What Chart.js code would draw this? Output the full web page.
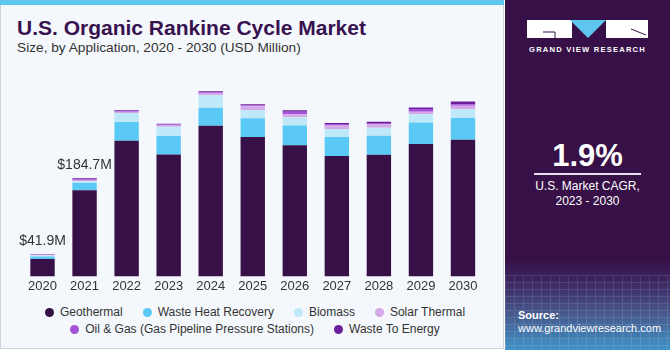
<!DOCTYPE html>
<html>
<head>
<meta charset="utf-8">
<script src="https://cdn.jsdelivr.net/npm/chart.js@4.4.1/dist/chart.umd.min.js"></script>
<style>
  body { margin: 0; width: 670px; height: 350px; background: #ffffff; font-family: "Liberation Sans", Arial, sans-serif; overflow: hidden; }
  #left { position: absolute; left: 0; top: 0; width: 502px; height: 348px; background: #f4f8fc; border-left: 1px solid #cfd3d8; border-bottom: 1px solid #cfd3d8; border-right: 1px solid #cfd3d8; }
  #stripe { position: absolute; left: 0; top: 0; width: 504px; height: 5px; background: #5ec6ef; }
  #title { position: absolute; left: 17px; top: 16px; font-size: 21px; font-weight: bold; color: #381250; white-space: nowrap; }
  #subtitle { position: absolute; left: 17px; top: 40px; font-size: 13.7px; color: #333; white-space: nowrap; }
  #chartBox { position: absolute; left: 0; top: 0; width: 500px; height: 300px; }
  #legend { position: absolute; left: 20px; width: 470px; top: 304px; display: flex; flex-wrap: wrap; justify-content: center; font-size: 12px; color: #333; line-height: 17px; }
  .item { display: flex; align-items: center; margin: 0 10px; white-space: nowrap; }
  .dot { width: 9px; height: 9px; border-radius: 50%; margin-right: 6px; }
  #panel { position: absolute; left: 505px; top: 0; width: 165px; height: 350px;
    background: linear-gradient(to bottom, #371047 0%, #371047 74%, #3d2a64 81%, #475a8e 90%, #3f93c8 100%); overflow: hidden; }
  #grid { position: absolute; left: 0; bottom: 0; width: 165px; height: 75px; opacity: 0.12;
    background-image: repeating-linear-gradient(to right, rgba(255,255,255,0.9) 0 1px, transparent 1px 9px),
                      repeating-linear-gradient(to bottom, rgba(255,255,255,0.9) 0 1px, transparent 1px 7px); }
  #gvr { position: absolute; left: 0; top: 45px; width: 165px; text-align: center; color: #fff; font-size: 7.6px; font-weight: bold; letter-spacing: 1.2px; }
  #cagr { position: absolute; left: 0; top: 138px; width: 165px; text-align: center; color: #fff; font-size: 31px; font-weight: bold; }
  #rule { position: absolute; left: 29px; top: 173px; width: 107px; height: 1.5px; background: #e8e0ee; }
  #cagrText { position: absolute; left: 0; top: 179px; width: 165px; text-align: center; color: #fff; font-size: 12px; line-height: 15px; }
  #source { position: absolute; left: 13px; top: 309px; color: #fff; font-size: 11px; line-height: 13px; }
</style>
</head>
<body>
<div id="left"></div>
<div id="stripe"></div>
<div id="title">U.S. Organic Rankine Cycle Market</div>
<div id="subtitle">Size, by Application, 2020 - 2030 (USD Million)</div>
<div id="chartBox"><canvas id="chart" width="500" height="300"></canvas></div>
<div id="legend"></div>
<div id="panel">
  <div id="grid"></div>
  <svg style="position:absolute;left:0;top:0" width="165" height="45">
    <rect x="22" y="20" width="45" height="18" fill="#fff"/>
    <polyline points="38,32 50,32 50,38" fill="none" stroke="#371047" stroke-width="1"/>
    <polygon points="65,20 101,20 83,38" fill="#5ec6ef"/>
    <rect x="101" y="20" width="42" height="18" fill="#fff"/>
    <line x1="126" y1="29" x2="141" y2="35" stroke="#371047" stroke-width="1"/>
  </svg>
  <div id="gvr">GRAND VIEW RESEARCH</div>
  <div id="cagr">1.9%</div>
  <div id="rule"></div>
  <div id="cagrText">U.S. Market CAGR,<br>2023 - 2030</div>
  <div id="source"><b>Source:</b><br>www.grandviewresearch.com</div>
</div>
<script>
// ---------------- data (USD Million) ----------------
const years = ['2020', '2021', '2022', '2023', '2024', '2025', '2026', '2027', '2028', '2029', '2030'];
const geothermal = [33.0, 162.3, 255.6, 229.5, 284.0, 262.5, 246.9, 227.0, 229.0, 249.5, 257.5];
const wasteHeatRecovery = [4.5, 13.6, 35.5, 34.9, 33.6, 35.5, 37.3, 35.5, 36.0, 40.3, 41.0];
const biomass = [1.8, 3.0, 16.8, 17.4, 23.7, 15.5, 15.5, 15.0, 15.0, 15.5, 16.8];
const solarThermal = [1.0, 2.0, 2.2, 2.4, 3.5, 7.0, 5.6, 7.0, 6.5, 5.0, 6.2];
const oilGas = [0.8, 1.9, 1.8, 1.8, 2.2, 2.0, 5.0, 2.5, 2.7, 5.0, 3.0];
const wasteToEnergy = [0.8, 1.9, 1.6, 1.4, 2.0, 2.0, 2.5, 2.0, 2.0, 3.0, 5.0];
const totalLabels = ['$41.9M', '$184.7M', '', '', '', '', '', '', '', '', ''];

const seriesNames = ['Geothermal', 'Waste Heat Recovery', 'Biomass', 'Solar Thermal',
  'Oil & Gas (Gas Pipeline Pressure Stations)', 'Waste To Energy'];
const seriesColors = ['#371047', '#5bc9f6', '#bfe9f9', '#d5a8e8', '#a552d8', '#6b2099'];
const seriesData = [geothermal, wasteHeatRecovery, biomass, solarThermal, oilGas, wasteToEnergy];

// labels on top of the first two bars
const totalsPlugin = {
  id: 'totals',
  afterDatasetsDraw(chart) {
    const { ctx, scales: { x, y } } = chart;
    ctx.save();
    ctx.font = '14px "Liberation Sans", Arial, sans-serif';
    ctx.fillStyle = '#333';
    ctx.textAlign = 'center';
    ctx.textBaseline = 'middle';
    years.forEach((yr, i) => {
      if (!totalLabels[i]) return;
      const sum = seriesData.reduce((acc, s) => acc + s[i], 0);
      ctx.fillText(totalLabels[i], x.getPixelForValue(i), y.getPixelForValue(sum) - 13);
    });
    ctx.restore();
  }
};

new Chart(document.getElementById('chart'), {
  type: 'bar',
  data: {
    labels: years,
    datasets: seriesNames.map((name, i) => ({
      label: name,
      data: seriesData[i],
      backgroundColor: seriesColors[i],
      borderWidth: 0,
      barPercentage: 0.58,
      categoryPercentage: 1
    }))
  },
  options: {
    responsive: false,
    animation: false,
    maintainAspectRatio: false,
    layout: { padding: { top: 80, left: 21.5, right: 16, bottom: 4 } },
    plugins: { legend: { display: false }, tooltip: { enabled: false } },
    scales: {
      x: {
        stacked: true,
        grid: { display: false, drawTicks: false },
        border: { display: false },
        ticks: { color: '#333', padding: 2, maxRotation: 0, autoSkip: false, font: { size: 13, family: '"Liberation Sans", Arial, sans-serif' } }
      },
      y: { stacked: true, display: false, min: 0, max: 370 }
    }
  },
  plugins: [totalsPlugin]
});

// html legend
const legend = document.getElementById('legend');
seriesNames.forEach((name, i) => {
  const item = document.createElement('div');
  item.className = 'item';
  const dot = document.createElement('span');
  dot.className = 'dot';
  dot.style.background = seriesColors[i];
  const txt = document.createElement('span');
  txt.textContent = name;
  item.appendChild(dot);
  item.appendChild(txt);
  legend.appendChild(item);
});
</script>
</body>
</html>
